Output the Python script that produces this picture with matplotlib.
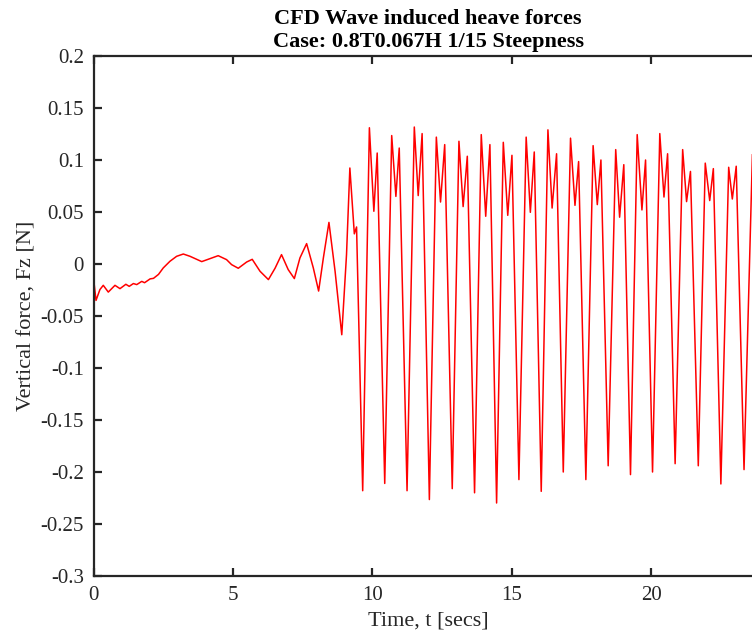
import matplotlib
matplotlib.use("Agg")
import matplotlib.pyplot as plt

# Time [s] and vertical force Fz [N]
time_s = [0.00, 0.09, 0.23, 0.35, 0.53, 0.77, 0.95, 1.16, 1.28, 1.43, 1.55, 1.73, 1.83,
          2.03, 2.15, 2.33, 2.50, 2.74, 2.98, 3.22, 3.46, 3.88, 4.18, 4.47, 4.77,
          4.95, 5.19, 5.49, 5.69, 5.97, 6.27, 6.51, 6.74, 6.98, 7.20, 7.40, 7.64, 7.88,
          8.07, 8.24, 8.44, 8.66, 8.90, 9.07, 9.19, 9.35, 9.43,
          9.65, 9.89, 10.05, 10.17, 10.44, 10.69, 10.84, 10.96, 11.24, 11.50, 11.64,
          11.78, 12.04, 12.29, 12.44, 12.59, 12.86, 13.10, 13.25, 13.40, 13.66,
          13.90, 14.06, 14.21, 14.45, 14.69, 14.85, 15.00, 15.25, 15.51, 15.66,
          15.80, 16.05, 16.29, 16.44, 16.60, 16.84, 17.10, 17.26, 17.39, 17.65,
          17.91, 18.06, 18.19, 18.45, 18.72, 18.86, 19.01, 19.25, 19.49, 19.66,
          19.79, 20.04, 20.30, 20.45, 20.58, 20.85, 21.12, 21.26, 21.40, 21.68,
          21.93, 22.09, 22.22, 22.49, 22.77, 22.90, 23.04, 23.32, 23.62]
force_n = [-0.0135, -0.035, -0.0246, -0.0205, -0.027, -0.0205, -0.0237, -0.0195, -0.0215, -0.0188, -0.0198, -0.0167, -0.018,
           -0.0143, -0.0138, -0.0100, -0.0038, 0.0026, 0.0074, 0.0096, 0.0074, 0.0023, 0.0052, 0.0080, 0.0042,
           -0.0006, -0.0041, 0.0019, 0.0045, -0.007, -0.015, -0.004, 0.009, -0.0054, -0.014, 0.0058, 0.0196, -0.0038,
           -0.026, 0.0058, 0.040, -0.007, -0.068, 0.009, 0.0923, 0.029, 0.0356,
           -0.218, 0.131, 0.0507, 0.1067, -0.211, 0.1235, 0.065, 0.1115, -0.218, 0.1317, 0.0658,
           0.1254, -0.2265, 0.122, 0.0596, 0.1148, -0.216, 0.118, 0.0552, 0.1036, -0.220,
           0.1244, 0.0459, 0.1148, -0.2298, 0.117, 0.0468, 0.1045, -0.2073, 0.122, 0.0497,
           0.1077, -0.2186, 0.129, 0.0538, 0.106, -0.200, 0.121, 0.0564, 0.0985, -0.2073,
           0.1138, 0.0571, 0.100, -0.194, 0.110, 0.045, 0.0955, -0.2025, 0.1244, 0.052,
           0.100, -0.200, 0.1254, 0.0644, 0.106, -0.192, 0.110, 0.060, 0.089, -0.194,
           0.097, 0.061, 0.0917, -0.2115, 0.093, 0.0625, 0.094, -0.1977, 0.105]

x_ticks = [0, 5, 10, 15, 20]
y_ticks = [-0.3, -0.25, -0.2, -0.15, -0.1, -0.05, 0, 0.05, 0.1, 0.15, 0.2]
y_tick_labels = ["-0.3", "-0.25", "-0.2", "-0.15", "-0.1", "-0.05", "0", "0.05", "0.1", "0.15", "0.2"]

title_text = "CFD Wave induced heave forces\nCase: 0.8T0.067H 1/15 Steepness"
x_label = "Time, t [secs]"
y_label = "Vertical force, Fz [N]"

plt.rcParams['font.family'] = ['Liberation Serif', 'DejaVu Serif']

fig = plt.figure(figsize=(7.52, 6.37), dpi=100)
W, H = 752, 637
left_px, right_px, top_px, bottom_px = 93.5, 763.0, 56.0, 576.0
ax = fig.add_axes([left_px / W, 1 - bottom_px / H, (right_px - left_px) / W, (bottom_px - top_px) / H])

ax.plot(time_s, force_n, color='#ff0000', linewidth=1.1, solid_joinstyle='round')

ax.set_xlim(0, 24)
ax.set_ylim(-0.3, 0.2)
ax.set_xticks(x_ticks)
ax.set_xticklabels([str(v) for v in x_ticks])
ax.set_yticks(y_ticks)
ax.set_yticklabels(y_tick_labels)

for s in ax.spines.values():
    s.set_color('#262626')
    s.set_linewidth(1.6)

ax.tick_params(axis='both', direction='in', length=6, width=1.6, colors='#262626',
               labelsize=15, top=True, right=True, pad=7)
for lbl in ax.get_xticklabels() + ax.get_yticklabels():
    lbl.set_color('#262626')

ax.set_xlabel(x_label, fontsize=16, color='#262626', labelpad=5)
ax.set_ylabel(y_label, fontsize=16, color='#262626', labelpad=3)
fig.text(((left_px + right_px) / 2) / W, 1 - 30 / H, title_text, ha='center', va='center',
         fontsize=16, fontweight='bold', color='black', linespacing=1.2)

fig.savefig("out.png", dpi=100)
